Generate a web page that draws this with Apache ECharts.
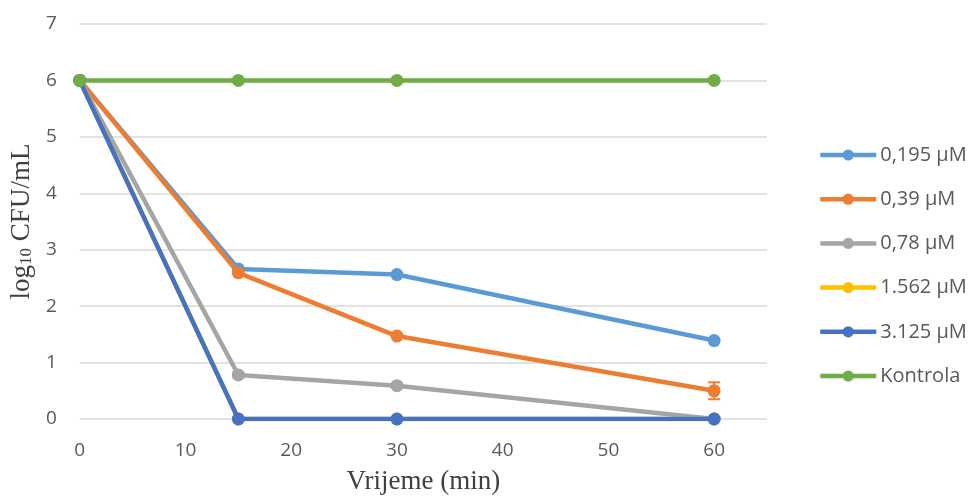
<!DOCTYPE html>
<html><head><meta charset="utf-8">
<script src="https://cdn.jsdelivr.net/npm/echarts@6/dist/echarts.min.js"></script>
<style>html,body{margin:0;padding:0;background:#fff}#c{width:972px;height:501px}</style>
</head><body><div id="c"></div>
<script>
const times = [0, 15, 30, 60];
const seriesNames = ['0,195 µM', '0,39 µM', '0,78 µM', '1.562 µM', '3.125 µM', 'Kontrola'];
const s0195 = [6, 2.66, 2.56, 1.39];
const s039 = [6, 2.59, 1.47, 0.5];
const s078 = [6, 0.78, 0.59, 0];
const s1562 = [6, 0, 0, 0];
const s3125 = [6, 0, 0, 0];
const kontrola = [6, 6, 6, 6];
// error bars: [series index, time, value, error]
const errBars = [[1, 60, 0.5, 0.15], [2, 15, 0.78, 0.05], [2, 30, 0.59, 0.04]];
const xTicks = [0, 10, 20, 30, 40, 50, 60];
const yTicks = [0, 1, 2, 3, 4, 5, 6, 7];

const colors = ['#5b9bd5', '#ed7d31', '#a5a5a5', '#ffc000', '#4472c4', '#70ad47'];
const values = [s0195, s039, s078, s1562, s3125, kontrola];

const chart = echarts.init(document.getElementById('c'));
const series = values.map((v, i) => ({
  name: seriesNames[i],
  type: 'line',
  data: times.map((t, k) => [t, v[k]]),
  symbol: 'circle',
  symbolSize: 13,
  lineStyle: { width: 4.5, color: colors[i] },
  itemStyle: { color: colors[i] },
  z: 2 + i,
  animation: false
}));
series.push({
  type: 'custom',
  z: 10,
  animation: false,
  data: errBars.map(e => [e[1], e[2], e[3], e[0]]),
  renderItem: function (params, api) {
    const x = api.value(0), y = api.value(1), e = api.value(2);
    const col = colors[api.value(3)];
    const top = api.coord([x, y + e]);
    const bot = api.coord([x, y - e]);
    const w = 6;
    return { type: 'group', children: [
      { type: 'line', shape: { x1: top[0], y1: top[1], x2: bot[0], y2: bot[1] }, style: { stroke: col, lineWidth: 2 } },
      { type: 'line', shape: { x1: top[0] - w, y1: top[1], x2: top[0] + w, y2: top[1] }, style: { stroke: col, lineWidth: 2 } },
      { type: 'line', shape: { x1: bot[0] - w, y1: bot[1], x2: bot[0] + w, y2: bot[1] }, style: { stroke: col, lineWidth: 2 } }
    ]};
  }
});

chart.setOption({
  animation: false,
  grid: { left: 76, right: 205, top: 24, bottom: 82, containLabel: false },
  legend: {
    orient: 'vertical',
    left: 813,
    top: 140,
    itemWidth: 56,
    itemHeight: 14,
    itemGap: 24.2,
    data: seriesNames,
    lineStyle: { width: 4.5 },
    textStyle: { fontFamily: 'Open Sans', fontSize: 20, color: '#595959', padding: [0, 0, 0, -1] }
  },
  xAxis: {
    type: 'value',
    min: 0, max: 65, interval: 10,
    name: 'Vrijeme (min)',
    nameLocation: 'middle',
    nameGap: 49,
    nameTextStyle: { fontFamily: 'Liberation Serif', fontSize: 27, color: '#404040' },
    axisLine: { show: false },
    axisTick: { show: false },
    splitLine: { show: false },
    axisLabel: {
      showMaxLabel: false,
      margin: 22,
      fontFamily: 'Open Sans', fontSize: 19, color: '#595959',
      formatter: v => (xTicks.indexOf(v) >= 0 ? String(v) : '')
    }
  },
  yAxis: {
    type: 'value',
    min: 0, max: 7, interval: 1,
    name: '{a|log}{s|10}{a| CFU/mL}',
    nameLocation: 'middle',
    nameGap: 41,
    nameRotate: 90,
    nameTextStyle: {
      rich: {
        a: { fontFamily: 'Liberation Serif', fontSize: 27, color: '#404040' },
        s: { fontFamily: 'Liberation Serif', fontSize: 17, color: '#404040', verticalAlign: 'bottom', padding: [10, 0, 0, 0] }
      }
    },
    axisLine: { show: false },
    axisTick: { show: false },
    splitLine: { lineStyle: { color: '#d9d9d9', width: 1.5 } },
    axisLabel: {
      margin: 23,
      fontFamily: 'Open Sans', fontSize: 19, color: '#595959',
      formatter: v => (yTicks.indexOf(v) >= 0 ? String(v) : '')
    }
  },
  series: series
});
</script>
</body></html>
